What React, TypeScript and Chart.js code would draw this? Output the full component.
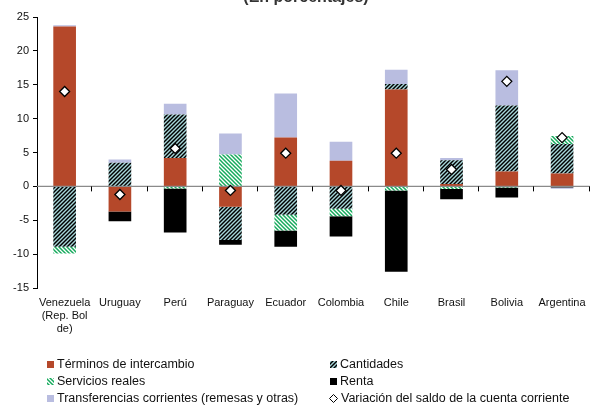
import React, { useEffect, useRef } from 'react';
import { Chart, registerables } from 'chart.js';

Chart.register(...registerables);

// Categories (countries) and the contribution of each component, in percent
const countries: (string | string[])[] = [
  ['Venezuela', '(Rep. Bol', 'de)'],
  'Uruguay',
  'Perú',
  'Paraguay',
  'Ecuador',
  'Colombia',
  'Chile',
  'Brasil',
  'Bolivia',
  'Argentina',
];
const terminosIntercambio = [23.6, -3.7, 4.2, -3.0, 7.2, 3.8, 14.3, 0.35, 2.2, 1.9];
const cantidades = [-8.9, 3.5, 6.4, -4.9, -4.2, -3.3, 0.8, 3.5, 9.75, 4.35];
const serviciosReales = [-1.0, 0, -0.3, 4.7, -2.3, -1.1, -0.6, -0.4, -0.15, 1.2];
const renta = [0, -1.45, -6.5, -0.7, -2.4, -3.0, -12.0, -1.5, -1.5, -0.15];
const transferencias = [0.2, 0.45, 1.6, 3.1, 6.5, 2.8, 2.1, 0.35, 5.2, -0.2];
const variacionSaldo = [14.0, -1.2, 5.6, -0.6, 4.9, -0.6, 4.9, 2.5, 15.5, 7.2];

const Y_MIN = -15;
const Y_MAX = 25;
const Y_STEP = 5;

const FONT = "'Liberation Sans', Arial, Helvetica, sans-serif";
const RED = '#b5482a';
const LAVENDER = '#b9bde0';
const HATCH_LIGHT = '#a6d6d8';
const GREEN = '#14aa5c';

function makeHatch(bg: string, fg: string, dir: '/' | '\\', size: number, lw: number) {
  const c = document.createElement('canvas');
  c.width = size;
  c.height = size;
  const g = c.getContext('2d')!;
  g.fillStyle = bg;
  g.fillRect(0, 0, size, size);
  g.strokeStyle = fg;
  g.lineWidth = lw;
  g.beginPath();
  if (dir === '/') {
    g.moveTo(0, size);
    g.lineTo(size, 0);
    g.moveTo(-1, 1);
    g.lineTo(1, -1);
    g.moveTo(size - 1, size + 1);
    g.lineTo(size + 1, size - 1);
  } else {
    g.moveTo(0, 0);
    g.lineTo(size, size);
    g.moveTo(-1, size - 1);
    g.lineTo(1, size + 1);
    g.moveTo(size - 1, -1);
    g.lineTo(size + 1, 1);
  }
  g.stroke();
  return g.createPattern(c, 'repeat')!;
}

export default function App() {
  const canvasRef = useRef<HTMLCanvasElement | null>(null);

  useEffect(() => {
    const canvas = canvasRef.current;
    if (!canvas) return;

    const cantPattern = makeHatch('#000000', HATCH_LIGHT, '/', 4, 1.4);
    const servPattern = makeHatch('#ffffff', GREEN, '\\', 4, 1.5);

    const DIAMOND_INDEX = 5;

    // Zero line and category tick marks, painted beneath the diamonds
    const zeroLinePlugin = {
      id: 'zeroLine',
      beforeDatasetDraw(chart: any, args: any) {
        if (args.index !== DIAMOND_INDEX) return;
        const { ctx, chartArea } = chart;
        const y0 = chart.scales.y.getPixelForValue(0);
        ctx.save();
        ctx.strokeStyle = '#8a8a8a';
        ctx.lineWidth = 1.3;
        ctx.beginPath();
        ctx.moveTo(chartArea.left, y0);
        ctx.lineTo(chartArea.right, y0);
        ctx.stroke();
        const n = countries.length;
        const w = (chartArea.right - chartArea.left) / n;
        ctx.strokeStyle = '#000';
        ctx.lineWidth = 1;
        for (let i = 1; i <= n; i++) {
          const x = Math.round(chartArea.left + i * w) - 0.5;
          ctx.beginPath();
          ctx.moveTo(x, y0);
          ctx.lineTo(x, y0 + 5);
          ctx.stroke();
        }
        ctx.restore();
      },
    };

    // Heading clipped at the top edge, and the two-column legend
    const decorPlugin = {
      id: 'decor',
      afterDraw(chart: any) {
        const { ctx } = chart;
        ctx.save();
        ctx.fillStyle = '#333';
        ctx.font = `bold 16px ${FONT}`;
        ctx.textAlign = 'center';
        ctx.textBaseline = 'alphabetic';
        ctx.fillText('(En porcentajes)', 306, 2);

        const cols = [47, 330];
        const rows = [364.5, 381.5, 398.5];
        const items = [
          { text: 'Términos de intercambio', col: 0, row: 0, fill: RED as any },
          { text: 'Cantidades', col: 1, row: 0, fill: cantPattern as any },
          { text: 'Servicios reales', col: 0, row: 1, fill: servPattern as any },
          { text: 'Renta', col: 1, row: 1, fill: '#000' as any },
          { text: 'Transferencias corrientes (remesas y otras)', col: 0, row: 2, fill: LAVENDER as any },
          { text: 'Variación del saldo de la cuenta corriente', col: 1, row: 2, fill: null as any },
        ];
        ctx.font = `12.5px ${FONT}`;
        ctx.textAlign = 'left';
        ctx.textBaseline = 'middle';
        for (const it of items) {
          const x = cols[it.col];
          const y = rows[it.row];
          if (it.fill) {
            ctx.fillStyle = it.fill;
            ctx.fillRect(x, y - 3.5, 7, 7);
          } else {
            ctx.fillStyle = '#fff';
            ctx.strokeStyle = '#000';
            ctx.lineWidth = 1;
            ctx.beginPath();
            ctx.moveTo(x + 3.5, y - 4);
            ctx.lineTo(x + 7.5, y);
            ctx.lineTo(x + 3.5, y + 4);
            ctx.lineTo(x - 0.5, y);
            ctx.closePath();
            ctx.fill();
            ctx.stroke();
          }
          ctx.fillStyle = '#111';
          ctx.fillText(it.text, x + (it.fill ? 10 : 11), y + 0.5);
        }
        ctx.restore();
      },
    };

    const barCommon = {
      type: 'bar' as const,
      borderWidth: 0,
      categoryPercentage: 1,
      barPercentage: 0.41,
      order: 1,
    };

    const chart = new Chart(canvas, {
      type: 'bar',
      data: {
        labels: countries,
        datasets: [
          { ...barCommon, label: 'Términos de intercambio', data: terminosIntercambio, backgroundColor: RED },
          { ...barCommon, label: 'Cantidades', data: cantidades, backgroundColor: cantPattern },
          { ...barCommon, label: 'Servicios reales', data: serviciosReales, backgroundColor: servPattern },
          { ...barCommon, label: 'Renta', data: renta, backgroundColor: '#000000' },
          { ...barCommon, label: 'Transferencias corrientes (remesas y otras)', data: transferencias, backgroundColor: LAVENDER },
          {
            type: 'line' as const,
            label: 'Variación del saldo de la cuenta corriente',
            data: variacionSaldo,
            yAxisID: 'y2',
            showLine: false,
            pointStyle: 'rectRot',
            pointRadius: 5,
            pointBackgroundColor: '#ffffff',
            pointBorderColor: '#000000',
            pointBorderWidth: 1.3,
            order: 0,
          } as any,
        ],
      },
      options: {
        animation: false,
        responsive: true,
        maintainAspectRatio: false,
        events: [],
        layout: { padding: { top: 17, bottom: 59, left: 0, right: 0 } },
        plugins: {
          legend: { display: false },
          tooltip: { enabled: false },
          title: { display: false },
        },
        scales: {
          x: {
            stacked: true,
            grid: { display: false, drawTicks: false },
            border: { display: false },
            ticks: {
              font: { family: FONT, size: 11 },
              color: '#111',
              padding: 8,
              maxRotation: 0,
              autoSkip: false,
            },
            afterFit: (s: any) => {
              s.height = 58;
            },
          },
          y: {
            stacked: true,
            min: Y_MIN,
            max: Y_MAX,
            ticks: {
              stepSize: Y_STEP,
              font: { family: FONT, size: 11 },
              color: '#111',
              padding: 4,
            },
            grid: { drawOnChartArea: false, drawTicks: true, tickLength: 4, color: '#000' },
            border: { display: true, color: '#000', width: 1 },
            afterFit: (s: any) => {
              s.width = 37;
            },
          },
          y2: {
            display: false,
            min: Y_MIN,
            max: Y_MAX,
          },
        },
      } as any,
      plugins: [zeroLinePlugin, decorPlugin],
    });

    return () => chart.destroy();
  }, []);

  return (
    <div style={{ position: 'fixed', left: 0, top: 0, width: 596, height: 405, background: '#fff' }}>
      <canvas ref={canvasRef} />
    </div>
  );
}
